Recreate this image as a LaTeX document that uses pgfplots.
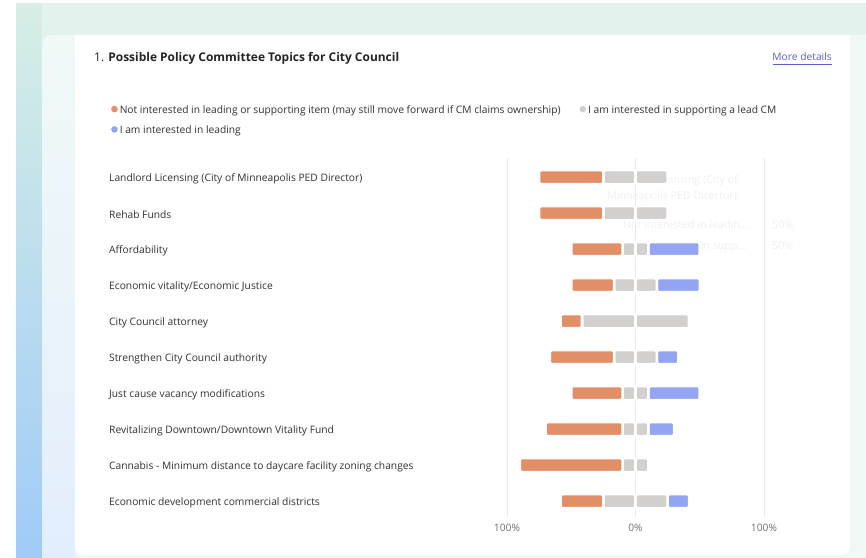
\documentclass[border=0pt]{standalone}
\usepackage{pgfplots}
\pgfplotsset{compat=1.18}
\usepackage{pgfplotstable}
\usepackage{fontspec}
\setmainfont{Open Sans}
\definecolor{orangec}{RGB}{226,143,104}
\definecolor{grayc}{RGB}{210,208,206}
\definecolor{bluec}{RGB}{146,164,242}
\definecolor{gridc}{RGB}{234,234,234}
\definecolor{txt}{RGB}{36,36,36}
\definecolor{lbl}{RGB}{50,49,48}
\definecolor{tickc}{RGB}{112,112,112}
\definecolor{link}{RGB}{91,95,199}
\definecolor{ghost}{RGB}{240,240,243}
\definecolor{cardc}{RGB}{240,248,246}

% idx 0 = top row
\pgfplotstableread{
idx O G B
0 50 50 0
1 50 50 0
2 40 20 40
3 33.3 33.3 33.4
4 16.7 83.3 0
5 50 33.3 16.7
6 40 20 40
7 60 20 20
8 80 20 0
9 33.3 50 16.7
}\datatable

\begin{document}
\begin{tikzpicture}[x=1bp,y=1bp]
\useasboundingbox (0,0) rectangle (866,-558);
\clip (0,0) rectangle (866,-558);
\fill[white] (0,0) rectangle (866,-558);
% background
\shade[top color={rgb,255:red,228;green,242;blue,237}, bottom color={rgb,255:red,236;green,246;blue,246}] (16,-4) rectangle (866,-558);
\shade[top color={rgb,255:red,214;green,238;blue,229}, bottom color={rgb,255:red,160;green,203;blue,247}] (16,-4) rectangle (42,-558);
% card
\begin{scope}
\clip[rounded corners=10bp] (42,-600) rectangle (900,-35);
\fill[cardc] (42,-600) rectangle (900,-35);
\shade[top color={rgb,255:red,241;green,249;blue,247}, bottom color={rgb,255:red,226;green,238;blue,252}] (42,-558) rectangle (75,-35);
\end{scope}
% white panel
\fill[white] (75,-300) -- (75,-35) -- (850,-35) [rounded corners=8bp] -- (850,-555) -- (75,-555) [sharp corners] -- (75,-300) -- cycle;
% title
\node[anchor=base west, inner sep=0pt, font=\fontsize{12}{14}\selectfont, text=txt] at (94,-62) {1. \textbf{Possible Policy Committee Topics for City Council}};
\node[anchor=base east, inner sep=0pt, text=link, font=\fontsize{10.3}{12}\selectfont] at (832,-61) {More details};
\draw[link, line width=0.8bp] (773,-64) -- (832,-64);
% faded tooltip remnant
\begin{scope}[text=ghost, font=\fontsize{10.7}{12}\selectfont]
\node[anchor=base west, inner sep=0pt] at (607,-184) {Landlord Licensing (City of};
\node[anchor=base west, inner sep=0pt] at (607,-200) {Minneapolis PED Director)};
\node[anchor=base west, inner sep=0pt] at (623,-229) {Not interested in leadin...};
\node[anchor=base west, inner sep=0pt] at (623,-250) {I am interested in supp...};
\node[anchor=base west, inner sep=0pt] at (772,-229) {50\%};
\node[anchor=base west, inner sep=0pt] at (772,-250) {50\%};
\end{scope}
\begin{axis}[
  at={(507bp,-517bp)}, anchor=south west, scale only axis,
  width=257bp, height=359bp,
  xmin=-100, xmax=100, ymin=-0.44, ymax=9.53,
  xbar stacked, stack negative=on previous, bar width=14bp,
  axis line style={draw=none}, major tick length=0pt,
  xtick={-100,0,100}, xticklabels={100\%,0\%,100\%},
  xmajorgrids, grid style={gridc, line width=1bp},
  ytick={0,...,9},
  yticklabels={Economic development commercial districts,Cannabis - Minimum distance to daycare facility zoning changes,Revitalizing Downtown/Downtown Vitality Fund,Just cause vacancy modifications,Strengthen City Council authority,City Council attorney,Economic vitality/Economic Justice,Affordability,Rehab Funds,Landlord Licensing (City of Minneapolis PED Director)},
  yticklabel style={anchor=west, xshift=-398bp, yshift=-1.5bp, inner sep=0pt, text=lbl, font=\fontsize{10.3}{12}\selectfont},
  xticklabel style={text=tickc, inner sep=0pt, yshift=-7bp, font=\fontsize{10.3}{12}\selectfont},
  /pgf/number format/assume math mode=true,
  every axis plot/.append style={draw=white, line width=2.6bp, rounded corners=1.5bp},
  legend columns=2,
  legend cell align=left,
  legend image code/.code={\fill[#1,draw=none] (0bp,0.12em) circle (3.3bp);},
  legend style={at={(axis description cs:-1.541,1.152)}, anchor=north west, draw=none, fill=none, inner sep=0pt, font=\fontsize{10.3}{12}\selectfont, text=lbl, row sep=7bp,
    /tikz/every even column/.append style={column sep=17bp}},
]
\addplot[forget plot, draw=none, fill=none] table[y expr=9-\thisrow{idx}, x expr=-\thisrow{O}-\thisrow{G}/2]{\datatable};
\addplot[fill=orangec] table[y expr=9-\thisrow{idx}, x=O]{\datatable};
\addplot[fill=grayc] table[y expr=9-\thisrow{idx}, x expr=\thisrow{G}/2]{\datatable};
\addplot[fill=grayc, forget plot] table[y expr=9-\thisrow{idx}, x expr=\thisrow{G}/2]{\datatable};
\addplot[fill=bluec] table[y expr=9-\thisrow{idx}, x=B]{\datatable};
\legend{Not interested in leading or supporting item (may still move forward if CM claims ownership),I am interested in supporting a lead CM,I am interested in leading}
\end{axis}
\end{tikzpicture}
\end{document}
